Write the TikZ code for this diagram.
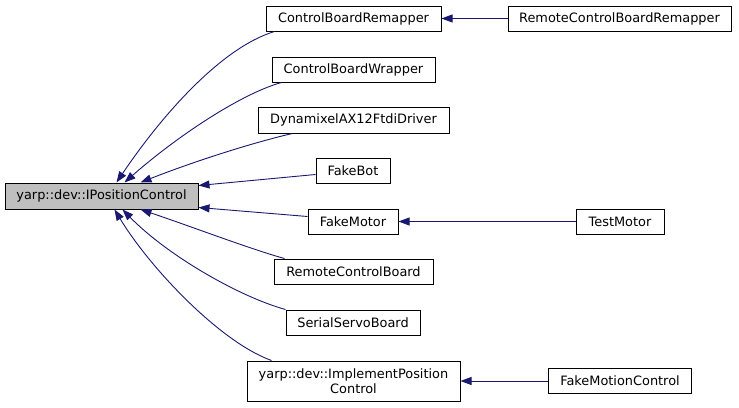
\documentclass[tikz,border=0pt]{standalone}
\usepackage{fontspec}
\setmainfont{DejaVu Sans}
\usetikzlibrary{arrows.meta,calc}
\definecolor{edgeblue}{HTML}{191970}
\definecolor{basegray}{HTML}{BFBFBF}
\tikzset{
  cls/.style={draw=black, line width=1pt, fill=white, inner sep=0pt, align=center,
    font=\fontsize{12.9}{15}\selectfont},
  inh/.style={draw=edgeblue, line width=0.9pt, -{Triangle[length=11pt,width=8pt]}, edgeblue},
}
\begin{document}
\begin{tikzpicture}[x=1pt,y=-1pt]
\useasboundingbox (0,0) rectangle (739,407);
\node[cls, fill=basegray, minimum width=193, minimum height=26] (base) at (101.5,196) {yarp::dev::IPositionControl};
\node[cls, minimum width=175, minimum height=25] (cbr) at (353.5,18.5) {ControlBoardRemapper};
\node[cls, minimum width=163, minimum height=25] (cbw) at (353.5,69.5) {ControlBoardWrapper};
\node[cls, minimum width=191, minimum height=26] (dyn) at (353.5,120) {DynamixelAX12FtdiDriver};
\node[cls, minimum width=74, minimum height=25] (fbot) at (353,170.5) {FakeBot};
\node[cls, minimum width=90, minimum height=25] (fmot) at (353,221.5) {FakeMotor};
\node[cls, minimum width=159, minimum height=25] (rcb) at (353.5,271.5) {RemoteControlBoard};
\node[cls, minimum width=134, minimum height=25] (ssb) at (353,322.5) {SerialServoBoard};
\node[cls, minimum width=213, minimum height=40] (ipc) at (353.5,381) {yarp::dev::ImplementPosition\\Control};
\node[cls, minimum width=223, minimum height=25] (rcbr) at (619.5,18.5) {RemoteControlBoardRemapper};
\node[cls, minimum width=88, minimum height=25] (tmot) at (620,221.5) {TestMotor};
\node[cls, minimum width=143, minimum height=25] (fmc) at (620,381) {FakeMotionControl};

\draw[inh] ($(cbr.south west)+(9,0)$) .. controls (220,48) and (160,118) .. ($(base.north west)+(112,0)$);
\draw[inh] ($(cbw.south west)+(10,0)$) .. controls (240,94) and (175,138) .. ($(base.north west)+(120,0)$);
\draw[inh] ($(dyn.south west)+(35,0)$) .. controls (255,142) and (195,161) .. ($(base.north west)+(136,0)$);
\draw[inh] ($(fbot.west)+(0,4)$) -- ($(base.north east)+(0,3)$);
\draw[inh] ($(fmot.west)+(0,-5)$) -- ($(base.south east)+(0,-2)$);
\draw[inh] ($(rcb.north west)+(11,0)$) .. controls (250,249) and (190,226) .. ($(base.south west)+(136,0)$);
\draw[inh] ($(ssb.north west)+(0,0)$) .. controls (240,297) and (168,256) .. ($(base.south west)+(118,0)$);
\draw[inh] ($(ipc.north west)+(25,0)$) .. controls (220,342) and (150,268) .. ($(base.south west)+(110,0)$);

\draw[inh] (rcbr.west) -- (cbr.east);
\draw[inh] (tmot.west) -- (fmot.east);
\draw[inh] (fmc.west) -- (ipc.east);
\end{tikzpicture}
\end{document}
